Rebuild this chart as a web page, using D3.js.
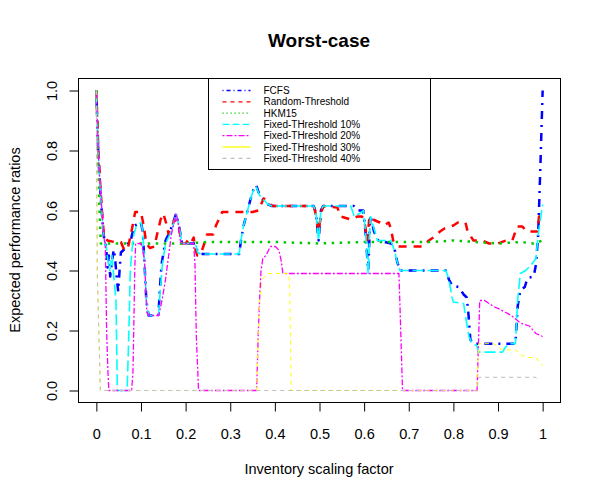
<!DOCTYPE html>
<html>
<head>
<meta charset="utf-8">
<script src="https://cdn.jsdelivr.net/npm/d3@7"></script>
<style>
  body { margin: 0; background: #fff; }
  text { font-family: "Liberation Sans", Arial, sans-serif; }
</style>
</head>
<body>
<div id="chart"></div>
<script>
// Series values, as [scaling factor, ratio] pairs
const fcfs = [[0,1.00],[0.003,0.84],[0.006,0.74],[0.009,0.66],[0.012,0.60],[0.015,0.54],[0.018,0.50],[0.022,0.48],[0.025,0.41],[0.028,0.45],[0.031,0.38],[0.035,0.43],[0.039,0.47],[0.042,0.44],[0.046,0.37],[0.049,0.33],[0.052,0.40],[0.055,0.46],[0.062,0.47],[0.07,0.49],[0.076,0.49],[0.08,0.52],[0.086,0.55],[0.1,0.56],[0.104,0.53],[0.108,0.42],[0.112,0.30],[0.117,0.25],[0.139,0.25],[0.142,0.33],[0.146,0.42],[0.155,0.50],[0.165,0.53],[0.172,0.56],[0.179,0.59],[0.185,0.55],[0.192,0.49],[0.222,0.49],[0.227,0.46],[0.233,0.455],[0.32,0.455],[0.325,0.51],[0.33,0.55],[0.337,0.59],[0.345,0.635],[0.352,0.67],[0.358,0.685],[0.366,0.65],[0.375,0.635],[0.385,0.62],[0.394,0.615],[0.487,0.615],[0.492,0.59],[0.498,0.50],[0.503,0.60],[0.508,0.615],[0.577,0.615],[0.585,0.60],[0.598,0.60],[0.603,0.53],[0.609,0.40],[0.614,0.585],[0.622,0.53],[0.632,0.50],[0.66,0.49],[0.667,0.48],[0.674,0.43],[0.68,0.40],[0.783,0.40],[0.79,0.37],[0.797,0.35],[0.812,0.345],[0.823,0.32],[0.83,0.31],[0.834,0.25],[0.838,0.17],[0.845,0.156],[0.939,0.156],[0.944,0.28],[0.95,0.335],[0.96,0.345],[0.966,0.375],[0.98,0.38],[0.985,0.42],[0.99,0.52],[0.995,0.75],[1.0,1.0]];

const randomThreshold = [[0,1.0],[0.003,0.86],[0.006,0.76],[0.009,0.68],[0.012,0.61],[0.015,0.55],[0.018,0.51],[0.025,0.50],[0.04,0.495],[0.055,0.495],[0.062,0.47],[0.07,0.47],[0.08,0.54],[0.087,0.595],[0.1,0.595],[0.106,0.55],[0.112,0.49],[0.12,0.475],[0.13,0.48],[0.136,0.52],[0.144,0.57],[0.15,0.59],[0.156,0.56],[0.162,0.52],[0.168,0.54],[0.175,0.57],[0.185,0.54],[0.192,0.49],[0.2,0.49],[0.205,0.50],[0.212,0.49],[0.218,0.51],[0.222,0.47],[0.226,0.45],[0.235,0.46],[0.242,0.49],[0.248,0.52],[0.262,0.52],[0.268,0.55],[0.276,0.575],[0.282,0.595],[0.35,0.595],[0.363,0.60],[0.375,0.64],[0.39,0.62],[0.396,0.615],[0.487,0.615],[0.49,0.60],[0.498,0.53],[0.505,0.60],[0.51,0.615],[0.54,0.61],[0.548,0.58],[0.57,0.57],[0.585,0.58],[0.595,0.58],[0.6,0.57],[0.607,0.50],[0.612,0.58],[0.62,0.57],[0.635,0.56],[0.645,0.55],[0.655,0.56],[0.66,0.54],[0.665,0.50],[0.677,0.48],[0.73,0.48],[0.745,0.50],[0.755,0.51],[0.77,0.53],[0.78,0.54],[0.8,0.55],[0.81,0.56],[0.827,0.56],[0.832,0.53],[0.845,0.50],[0.865,0.50],[0.88,0.49],[0.9,0.49],[0.918,0.50],[0.932,0.50],[0.943,0.547],[0.954,0.547],[0.965,0.53],[0.988,0.53],[0.992,0.58],[1.0,0.58]];

const hkm15 = [[0,1.0],[0.002,0.9],[0.004,0.78],[0.006,0.66],[0.008,0.56],[0.01,0.49],[0.1,0.49],[0.2,0.49],[0.25,0.495],[0.3,0.495],[0.4,0.495],[0.5,0.49],[0.6,0.495],[0.7,0.495],[0.75,0.495],[0.8,0.5],[0.85,0.495],[0.9,0.49],[0.95,0.495],[0.98,0.49],[1.0,0.5]];

const fixed10 = [[0,1.0],[0.003,0.84],[0.006,0.74],[0.009,0.66],[0.012,0.60],[0.015,0.54],[0.018,0.50],[0.022,0.48],[0.026,0.43],[0.03,0.40],[0.035,0.45],[0.039,0.38],[0.044,0.30],[0.047,0.0],[0.069,0.0],[0.073,0.2],[0.076,0.40],[0.08,0.47],[0.084,0.52],[0.09,0.55],[0.1,0.56],[0.104,0.53],[0.108,0.42],[0.112,0.30],[0.117,0.25],[0.139,0.25],[0.143,0.33],[0.148,0.42],[0.155,0.49],[0.165,0.52],[0.172,0.55],[0.179,0.59],[0.185,0.55],[0.192,0.49],[0.222,0.49],[0.227,0.46],[0.233,0.455],[0.32,0.455],[0.325,0.51],[0.33,0.55],[0.337,0.59],[0.345,0.635],[0.352,0.67],[0.358,0.68],[0.366,0.65],[0.375,0.635],[0.385,0.62],[0.394,0.615],[0.487,0.615],[0.492,0.59],[0.498,0.50],[0.503,0.60],[0.508,0.615],[0.57,0.615],[0.578,0.58],[0.59,0.59],[0.598,0.60],[0.603,0.53],[0.609,0.39],[0.614,0.58],[0.62,0.55],[0.63,0.50],[0.66,0.50],[0.667,0.47],[0.674,0.43],[0.68,0.40],[0.783,0.40],[0.79,0.37],[0.797,0.31],[0.8,0.295],[0.823,0.29],[0.828,0.24],[0.835,0.18],[0.842,0.156],[0.852,0.15],[0.857,0.128],[0.91,0.128],[0.917,0.145],[0.925,0.156],[0.939,0.156],[0.944,0.30],[0.95,0.39],[0.962,0.40],[0.975,0.42],[0.985,0.44],[0.99,0.52],[0.995,0.57],[1.0,0.62]];

const fixed20 = [[0,1.0],[0.003,0.84],[0.006,0.74],[0.009,0.67],[0.012,0.61],[0.015,0.55],[0.018,0.50],[0.02,0.49],[0.023,0.2],[0.026,0.06],[0.028,0.0],[0.079,0.0],[0.082,0.06],[0.084,0.22],[0.086,0.40],[0.088,0.49],[0.1,0.49],[0.104,0.47],[0.108,0.43],[0.113,0.26],[0.118,0.25],[0.14,0.25],[0.147,0.30],[0.155,0.37],[0.162,0.45],[0.168,0.52],[0.174,0.56],[0.179,0.59],[0.183,0.56],[0.188,0.50],[0.192,0.49],[0.218,0.49],[0.221,0.42],[0.224,0.18],[0.229,0.0],[0.359,0.0],[0.363,0.2],[0.366,0.31],[0.369,0.40],[0.373,0.44],[0.38,0.45],[0.39,0.48],[0.401,0.48],[0.409,0.468],[0.414,0.434],[0.418,0.39],[0.678,0.39],[0.682,0.2],[0.686,0.0],[0.853,0.0],[0.856,0.15],[0.859,0.30],[0.87,0.30],[0.89,0.28],[0.905,0.27],[0.93,0.25],[0.95,0.225],[0.97,0.215],[0.985,0.19],[1.0,0.18]];

const fixed30 = [[0,1.0],[0.002,0.40],[0.009,0.0],[0.359,0.0],[0.363,0.2],[0.366,0.3],[0.372,0.37],[0.382,0.39],[0.431,0.39],[0.433,0.346],[0.435,0.17],[0.436,0.07],[0.437,0.0],[0.852,0.0],[0.857,0.156],[0.89,0.156],[0.9,0.145],[0.91,0.135],[0.94,0.135],[0.95,0.12],[0.965,0.11],[0.985,0.11],[0.995,0.09],[1.0,0.083]];

const fixed40 = [[0,1.0],[0.002,0.40],[0.009,0.0],[0.852,0.0],[0.857,0.044],[0.985,0.044],[0.99,0.035]];

const seriesNames = ["FCFS", "Random-Threshold", "HKM15", "Fixed-THreshold 10%",
                     "Fixed-THreshold 20%", "Fixed-THreshold 30%", "Fixed-THreshold 40%"];
const seriesData = [fcfs, randomThreshold, hkm15, fixed10, fixed20, fixed30, fixed40];
const xTicks = [0, 0.1, 0.2, 0.3, 0.4, 0.5, 0.6, 0.7, 0.8, 0.9, 1];
const yTicks = [0, 0.2, 0.4, 0.6, 0.8, 1.0];

// line styles (R-like lty / lwd)
const colors = ["#0000FF", "#FF0000", "#00C800", "#00FFFF", "#FF00FF", "#FFFF00", "#BEBEBE"];
const widths = [2.5, 2.5, 2.5, 1.6, 1.3, 1, 1];
const dashes = ["2,6,8,6", "8,7", "2.5,5.5", "11,4", "2,2,6,2", "4,4", "4,4"];
const legendDashes = ["1,3,4,3", "4,4", "1.2,2.8", "7,3", "2,2,6,2", null, "4,4"];

const margin = {top: 78, right: 40, bottom: 98, left: 78},
      width = 600 - margin.left - margin.right,
      height = 500 - margin.top - margin.bottom;

const svg = d3.select("#chart")
    .append("svg")
    .attr("width", 600)
    .attr("height", 500);

// half-pixel offset keeps the 1px lines crisp
const g = svg.append("g")
    .attr("transform", `translate(${margin.left + 0.5},${margin.top + 0.5})`);

// R pads the range by 4% on each side
const x = d3.scaleLinear().domain([-0.04, 1.04]).range([0, width]);
const y = d3.scaleLinear().domain([-0.04, 1.04]).range([height, 0]);

// Lines
const line = d3.line()
    .x(d => x(d[0]))
    .y(d => y(d[1]));

seriesData.forEach((data, i) => {
    g.append("path")
        .datum(data)
        .attr("fill", "none")
        .attr("stroke", colors[i])
        .attr("stroke-width", widths[i])
        .attr("stroke-dasharray", dashes[i])
        .attr("stroke-linejoin", "round")
        .attr("d", line);
});

// X axis
const xAxis = g.append("g")
    .attr("transform", `translate(0,${height})`)
    .call(d3.axisBottom(x)
        .tickValues(xTicks)
        .tickSize(9)
        .tickPadding(17)
        .tickFormat(d => d === 0 ? "0" : d === 1 ? "1" : d3.format(".1f")(d)));
xAxis.select(".domain").remove();
xAxis.selectAll("line").attr("stroke", "#000");
xAxis.selectAll("text")
    .style("font-size", "14.5px")
    .style("font-family", "'Liberation Sans', Arial, sans-serif")
    .attr("fill", "#000");

// Y axis
const yAxis = g.append("g")
    .call(d3.axisLeft(y)
        .tickValues(yTicks)
        .tickSize(9)
        .tickFormat(d3.format(".1f")));
yAxis.select(".domain").remove();
yAxis.selectAll("line").attr("stroke", "#000");
yAxis.selectAll("text")
    .attr("x", null)
    .attr("dy", null)
    .attr("text-anchor", "middle")
    .attr("transform", "translate(-22,0) rotate(-90)")
    .style("font-size", "14.5px")
    .style("font-family", "'Liberation Sans', Arial, sans-serif")
    .attr("fill", "#000");

// Plot box
g.append("rect")
    .attr("x", 0)
    .attr("y", 0)
    .attr("width", width)
    .attr("height", height)
    .attr("fill", "none")
    .attr("stroke", "#000")
    .attr("stroke-width", 1);

// Title
svg.append("text")
    .attr("x", margin.left + width / 2)
    .attr("y", 47)
    .attr("text-anchor", "middle")
    .style("font-size", "19px")
    .style("font-weight", "bold")
    .text("Worst-case");

// Axis labels
svg.append("text")
    .attr("x", margin.left + width / 2)
    .attr("y", 474)
    .attr("text-anchor", "middle")
    .style("font-size", "14.5px")
    .text("Inventory scaling factor");

svg.append("text")
    .attr("transform", `translate(20,${margin.top + height / 2}) rotate(-90)`)
    .attr("text-anchor", "middle")
    .style("font-size", "14.5px")
    .text("Expected performance ratios");

// Legend
const legend = svg.append("g").attr("transform", "translate(208.5,78.5)");
legend.append("rect")
    .attr("width", 222)
    .attr("height", 91)
    .attr("fill", "#fff")
    .attr("stroke", "#000")
    .attr("stroke-width", 1);

seriesNames.forEach((name, i) => {
    const ly = 12 + i * 11.3;
    legend.append("line")
        .attr("x1", 14).attr("x2", 42)
        .attr("y1", ly).attr("y2", ly)
        .attr("stroke", colors[i])
        .attr("stroke-width", 1.3)
        .attr("stroke-dasharray", legendDashes[i]);
    legend.append("text")
        .attr("x", 55)
        .attr("y", ly + 3.6)
        .style("font-size", "10px")
        .text(name);
});
</script>
</body>
</html>
